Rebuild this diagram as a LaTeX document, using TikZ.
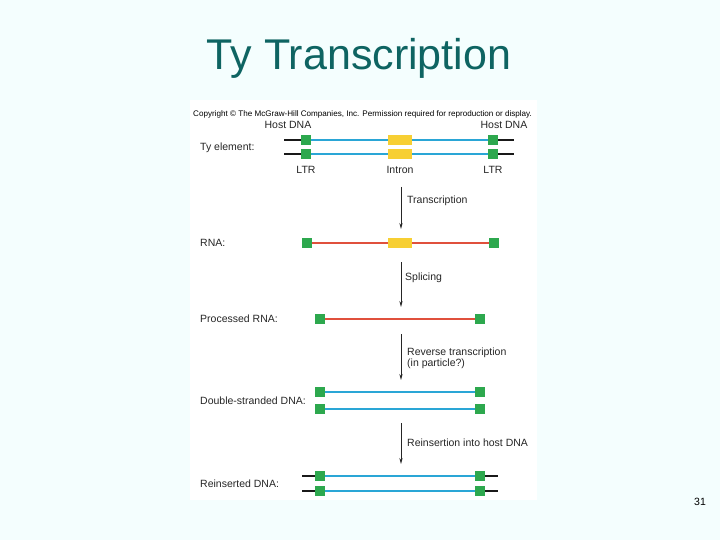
\documentclass[tikz,border=0pt]{standalone}
\usepackage{fontspec}
\setmainfont{Liberation Sans}
\usetikzlibrary{arrows.meta}
\definecolor{bgc}{HTML}{F4FEFE}
\definecolor{titlec}{HTML}{0E6462}
\definecolor{dnab}{HTML}{2AA6D6}
\definecolor{ltrg}{HTML}{2DA84E}
\definecolor{intry}{HTML}{F7CF33}
\definecolor{rnar}{HTML}{E0503C}
\tikzset{
  lbl/.style={font=\fontsize{10.5}{12}\selectfont, inner sep=0pt, anchor=west, text=black!85},
  ltr/.style={fill=ltrg, draw=none, minimum width=10pt, minimum height=10.5pt, inner sep=0pt},
  intron/.style={fill=intry, draw=none, minimum width=24pt, minimum height=10pt, inner sep=0pt},
  dna/.style={draw=dnab, line width=2.4pt},
  host/.style={draw=black!90, line width=2.4pt},
  rna/.style={draw=rnar, line width=2.4pt},
  flow/.style={draw=black!85, line width=0.7pt, -{Stealth[length=6pt,width=3.2pt]}},
}
\begin{document}
\begin{tikzpicture}[x=1pt,y=-1pt]
\fill[bgc] (0,0) rectangle (720,540);
\useasboundingbox (0,0) rectangle (720,540);
\fill[white] (190,100) rectangle (537,500);

\node[font=\fontsize{43}{48}\selectfont, text=titlec, anchor=base, inner sep=0pt] (title) at (359,70) {Ty Transcription};

\node[font=\fontsize{8.1}{9}\selectfont, anchor=west, inner sep=0pt] (copy) at (193,114) {Copyright \textcopyright\ The McGraw-Hill Companies, Inc. Permission required for reproduction or display.};

% Ty element
\node[lbl, anchor=center] (hostL) at (288,125) {Host DNA};
\node[lbl, anchor=center] (hostR) at (504,125) {Host DNA};
\node[lbl] (tyl) at (200,148) {Ty element:};
\foreach \n/\y in {a/140,b/154}{
  \coordinate (h1\n) at (284,\y);
  \coordinate (h2\n) at (514,\y);
  \node[ltr] (l1\n) at (306,\y) {};
  \node[ltr] (l2\n) at (493,\y) {};
  \node[intron] (in\n) at (400,\y) {};
  \draw[host] (h1\n) -- (l1\n.west);
  \draw[host] (l2\n.east) -- (h2\n);
  \draw[dna] (l1\n.east) -- (in\n.west);
  \draw[dna] (in\n.east) -- (l2\n.west);
}
\node[lbl, anchor=center] (ltrL) at (306,170) {LTR};
\node[lbl, anchor=center] (intL) at (400,170) {Intron};
\node[lbl, anchor=center] (ltrR) at (493,170) {LTR};

% arrow 1
\coordinate (a1s) at (401,187);
\coordinate (a1e) at (401,229);
\draw[flow] (a1s) -- (a1e);
\node[lbl] (t1) at (407,201) {Transcription};

% RNA
\node[lbl] (rnal) at (200,243) {RNA:};
\node[ltr] (r1) at (307,243) {};
\node[intron] (ri) at (400,243) {};
\node[ltr] (r2) at (494,243) {};
\draw[rna] (r1.east) -- (ri.west);
\draw[rna] (ri.east) -- (r2.west);

% arrow 2
\coordinate (a2s) at (401,262);
\coordinate (a2e) at (401,307);
\draw[flow] (a2s) -- (a2e);
\node[lbl] (t2) at (405,278) {Splicing};

% processed RNA
\node[lbl] (prl) at (200,319) {Processed RNA:};
\node[ltr] (p1) at (320,319) {};
\node[ltr] (p2) at (480,319) {};
\draw[rna] (p1.east) -- (p2.west);

% arrow 3
\coordinate (a3s) at (401,334);
\coordinate (a3e) at (401,380);
\draw[flow] (a3s) -- (a3e);
\node[lbl] (t3a) at (407,353) {Reverse transcription};
\node[lbl] (t3b) at (407,364) {(in particle?)};

% double stranded DNA
\node[lbl] (dsl) at (200,401) {Double-stranded DNA:};
\foreach \n/\y in {a/392,b/409}{
  \node[ltr] (d1\n) at (320,\y) {};
  \node[ltr] (d2\n) at (480,\y) {};
  \draw[dna] (d1\n.east) -- (d2\n.west);
}

% arrow 4
\coordinate (a4s) at (401,423);
\coordinate (a4e) at (401,464);
\draw[flow] (a4s) -- (a4e);
\node[lbl] (t4) at (407,443) {Reinsertion into host DNA};

% reinserted DNA
\node[lbl] (ril) at (200,484) {Reinserted DNA:};
\foreach \n/\y in {a/476,b/491}{
  \coordinate (g1\n) at (302,\y);
  \coordinate (g2\n) at (498,\y);
  \node[ltr] (e1\n) at (320,\y) {};
  \node[ltr] (e2\n) at (480,\y) {};
  \draw[host] (g1\n) -- (e1\n.west);
  \draw[host] (e2\n.east) -- (g2\n);
  \draw[dna] (e1\n.east) -- (e2\n.west);
}

\node[font=\fontsize{10.5}{12}\selectfont, inner sep=0pt] (pg) at (700,502) {31};
\end{tikzpicture}
\end{document}
